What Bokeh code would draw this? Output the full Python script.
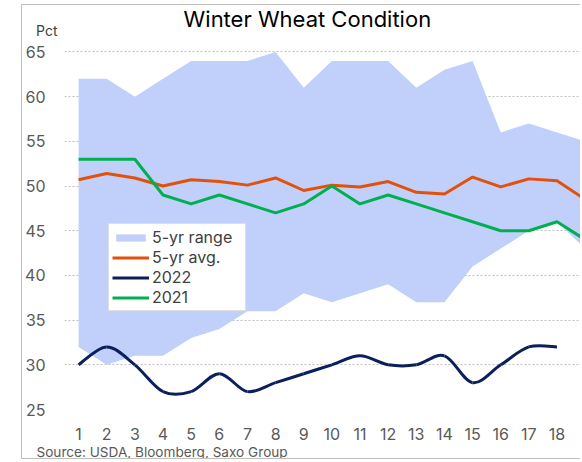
from bokeh.plotting import figure
from bokeh.models import (ColumnDataSource, FixedTicker, Legend, LegendItem, Range1d, Title, Label,
                          LinearAxis)
from bokeh.embed import file_html
from bokeh.resources import INLINE

# ---- data ----
weeks = list(range(1, 20))
range_low = [32, 30, 31, 31, 33, 34, 36, 36, 38, 37, 38, 39, 37, 37, 41, 43, 45, 46, 43]
range_high = [62, 62, 60, 62, 64, 64, 64, 65, 61, 64, 64, 64, 61, 63, 64, 56, 57, 56, 55]
avg5 = [50.7, 51.4, 50.9, 50.0, 50.7, 50.5, 50.1, 50.9, 49.5, 50.1, 49.9, 50.5, 49.3, 49.1,
        51.0, 49.9, 50.8, 50.6, 48.5]
y2021 = [53, 53, 53, 49, 48, 49, 48, 47, 48, 50, 48, 49, 48, 47, 46, 45, 45, 46, 44]
weeks_2022 = list(range(1, 19))
y2022 = [30, 32, 30, 27, 27, 29, 27, 28, 29, 30, 31, 30, 30, 31, 28, 30, 32, 32]
y_ticks = [25, 30, 35, 40, 45, 50, 55, 60, 65]
unit_pos = 67.35          # where the "Pct" unit label sits on the value axis
title_pos = (9.13, 68.69)

FONT = "Inter"
GRAY = "#595959"

p = figure(width=559, height=455, output_backend="svg", toolbar_location=None,
           x_range=Range1d(0.5, 18.87), y_range=Range1d(25, 70.196),
           min_border_left=41, min_border_right=0, min_border_top=0, min_border_bottom=50,
           outline_line_color=None, background_fill_color="white",
           border_fill_color="white", title=None)
p.margin = (4, 0, 0, 21)
p.styles = {"border-left": "1.5px solid #BFBFBF", "border-top": "1.5px solid #BFBFBF",
            "border-bottom": "1.5px solid #BFBFBF"}

# 5-yr range
r_range = p.varea(x=weeks, y1=range_low, y2=range_high, fill_color="#C0D0FA", fill_alpha=1)
# 5-yr avg
r_avg = p.line(weeks, avg5, line_color="#E2500A", line_width=3)
# 2021
r_2021 = p.line(weeks, y2021, line_color="#00B050", line_width=3)

# 2022 smoothed (Catmull-Rom style, as Excel's smoothed line)
n = len(y2022)
x0, y0, x1, y1, cx0, cy0, cx1, cy1 = [], [], [], [], [], [], [], []
for i in range(n - 1):
    xm1, ym1 = (weeks_2022[i - 1], y2022[i - 1]) if i > 0 else (weeks_2022[i], y2022[i])
    xp2, yp2 = (weeks_2022[i + 2], y2022[i + 2]) if i + 2 < n else (weeks_2022[i + 1], y2022[i + 1])
    xa, ya = weeks_2022[i], y2022[i]
    xb, yb = weeks_2022[i + 1], y2022[i + 1]
    x0.append(xa); y0.append(ya); x1.append(xb); y1.append(yb)
    cx0.append(xa + (xb - xm1) / 6); cy0.append(ya + (yb - ym1) / 6)
    cx1.append(xb - (xp2 - xa) / 6); cy1.append(yb - (yp2 - ya) / 6)
src22 = ColumnDataSource(dict(x0=x0, y0=y0, x1=x1, y1=y1, cx0=cx0, cy0=cy0, cx1=cx1, cy1=cy1))
r_2022 = p.bezier(x0="x0", y0="y0", x1="x1", y1="y1", cx0="cx0", cy0="cy0", cx1="cx1", cy1="cy1",
                  source=src22, line_color="#0B1F5C", line_width=3)

# axes
p.yaxis.ticker = FixedTicker(ticks=y_ticks)
p.xaxis.ticker = FixedTicker(ticks=weeks)
for ax in (p.xaxis[0], p.yaxis[0]):
    ax.axis_line_color = None
    ax.major_tick_line_color = None
    ax.minor_tick_line_color = None
    ax.major_label_text_font = FONT
    ax.major_label_text_font_size = "16px"
    ax.major_label_text_color = GRAY
p.yaxis.major_label_standoff = 13
p.xaxis.major_label_standoff = 12
p.xgrid.grid_line_color = None
p.ygrid.ticker = FixedTicker(ticks=y_ticks)
p.ygrid.grid_line_color = "#BFBFBF"
p.ygrid.grid_line_dash = "2 2"
p.ygrid.grid_line_width = 1

# unit label "Pct" on a second value axis (no extra panel width)
unit_axis = LinearAxis(ticker=FixedTicker(ticks=[unit_pos]),
                       major_label_overrides={unit_pos: "Pct"},
                       axis_line_color=None, major_tick_line_color=None,
                       minor_tick_line_color=None, major_label_standoff=-41,
                       major_label_text_font=FONT, major_label_text_font_size="14px",
                       major_label_text_color="#404040")
p.add_layout(unit_axis, "left")

# legend
legend = Legend(items=[LegendItem(label="5-yr range", renderers=[r_range]),
                       LegendItem(label="5-yr avg.", renderers=[r_avg]),
                       LegendItem(label="2022", renderers=[r_2022]),
                       LegendItem(label="2021", renderers=[r_2021])],
                location=(44, 98), margin=0, padding=3, spacing=0,
                label_height=18, label_width=90, glyph_height=9, glyph_width=37,
                label_standoff=3, label_text_line_height=1.1,
                label_text_font=FONT, label_text_font_size="16px", label_text_color="#404040",
                border_line_color="#BFBFBF", border_line_width=1.5,
                background_fill_color="white", background_fill_alpha=1)
p.add_layout(legend, "center")

# chart title (inside the plotting frame, above the data)
p.add_layout(Label(x=title_pos[0], y=title_pos[1], text="Winter Wheat Condition",
                   text_align="center", text_baseline="middle", text_font=FONT,
                   text_font_size="22px", text_color="#000000"))
# source note
p.add_layout(Title(text="Source: USDA, Bloomberg, Saxo Group", align="left", offset=-28,
                   standoff=0, vertical_align="middle", text_font=FONT,
                   text_font_size="13.6px", text_color=GRAY,
                   text_font_style="normal"), "below")

open("out.html", "w").write(file_html(p, INLINE))
